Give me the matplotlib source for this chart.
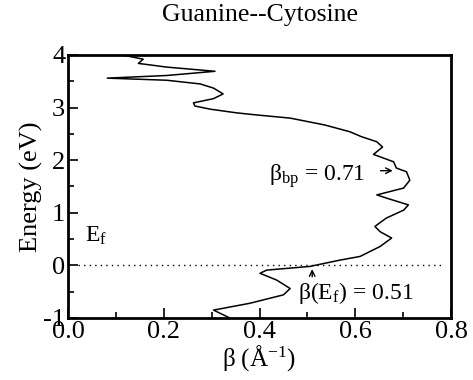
import matplotlib
matplotlib.use("Agg")
import matplotlib.pyplot as plt
from matplotlib.ticker import MultipleLocator

plt.rcParams["font.family"] = ["Liberation Serif", "DejaVu Serif"]
plt.rcParams["mathtext.fontset"] = "custom"
plt.rcParams["mathtext.rm"] = "Liberation Serif"
plt.rcParams["mathtext.it"] = "Liberation Serif:italic"

# beta(E) curve (top to bottom)
energy = [3.99, 3.92, 3.84, 3.77, 3.69, 3.61, 3.56, 3.52, 3.45, 3.37, 3.26,
          3.17, 3.09, 3.03, 2.97, 2.90, 2.86, 2.80, 2.67, 2.54, 2.45, 2.35,
          2.25, 2.11, 2.04, 1.97, 1.85, 1.78, 1.62, 1.47, 1.34, 1.28, 1.15,
          1.05, 0.90, 0.74, 0.64, 0.52, 0.36, 0.17, 0.10, -0.02, -0.09,
          -0.15, -0.28, -0.44, -0.56, -0.72, -0.85, -1.00]
beta = [0.119, 0.157, 0.147, 0.206, 0.307, 0.206, 0.082, 0.206, 0.276, 0.304,
        0.324, 0.304, 0.262, 0.265, 0.297, 0.352, 0.394, 0.464, 0.536, 0.589,
        0.612, 0.645, 0.657, 0.638, 0.659, 0.680, 0.686, 0.707, 0.714, 0.701,
        0.645, 0.665, 0.711, 0.701, 0.665, 0.641, 0.652, 0.676, 0.652, 0.610,
        0.568, 0.505, 0.415, 0.401, 0.436, 0.464, 0.450, 0.380, 0.304, 0.338]

beta_bp = 0.71
beta_ef = 0.51

fig = plt.figure(figsize=(4.73, 3.80), dpi=100)
ax = fig.add_axes([0.1438, 0.1632, 0.8097, 0.6921])

ax.plot(beta, energy, color="black", lw=1.1)
ax.plot([0.02, 0.78], [0, 0], color="black", lw=1, ls=(0, (1, 3)))

ax.set_xlim(0, 0.8)
ax.set_ylim(-1, 4)
ax.xaxis.set_major_locator(MultipleLocator(0.2))
ax.xaxis.set_minor_locator(MultipleLocator(0.1))
ax.yaxis.set_major_locator(MultipleLocator(1))
ax.yaxis.set_minor_locator(MultipleLocator(0.5))
ax.xaxis.set_major_formatter(lambda v, p: f"{v:.1f}")
ax.yaxis.set_major_formatter(lambda v, p: f"{v:g}".replace("\u2212", "-"))
ax.tick_params(which="both", direction="in", labelsize=19, width=1.2)
ax.tick_params(which="major", length=7, pad=2)
ax.tick_params(which="minor", length=4)
for s in ax.spines.values():
    s.set_linewidth(2)

ax.set_xlabel(r"β (Å$^{\mathrm{-1}}$)", fontsize=18, labelpad=0)
ax.set_ylabel("Energy (eV)", fontsize=19, labelpad=0)
fig.text(0.549, 0.96, "Guanine--Cytosine", ha="center", va="center", fontsize=18.5)

ax.text(0.035, 0.56, r"E$_\mathrm{f}$", fontsize=17, va="center")
ax.text(0.42, 1.70, r"β$_\mathrm{bp}$ = " + f"{beta_bp:.2f}", fontsize=17, va="center")
ax.annotate("", xy=(0.684, 1.80), xytext=(0.647, 1.80),
            arrowprops=dict(arrowstyle="->", lw=1, color="black"))
ax.text(0.48, -0.52, r"β(E$_\mathrm{f}$) = " + f"{beta_ef:.2f}", fontsize=17, va="center")
ax.annotate("", xy=(beta_ef, -0.02), xytext=(beta_ef, -0.27),
            arrowprops=dict(arrowstyle="->", lw=1, color="black"))

fig.savefig("out.png", dpi=100)
